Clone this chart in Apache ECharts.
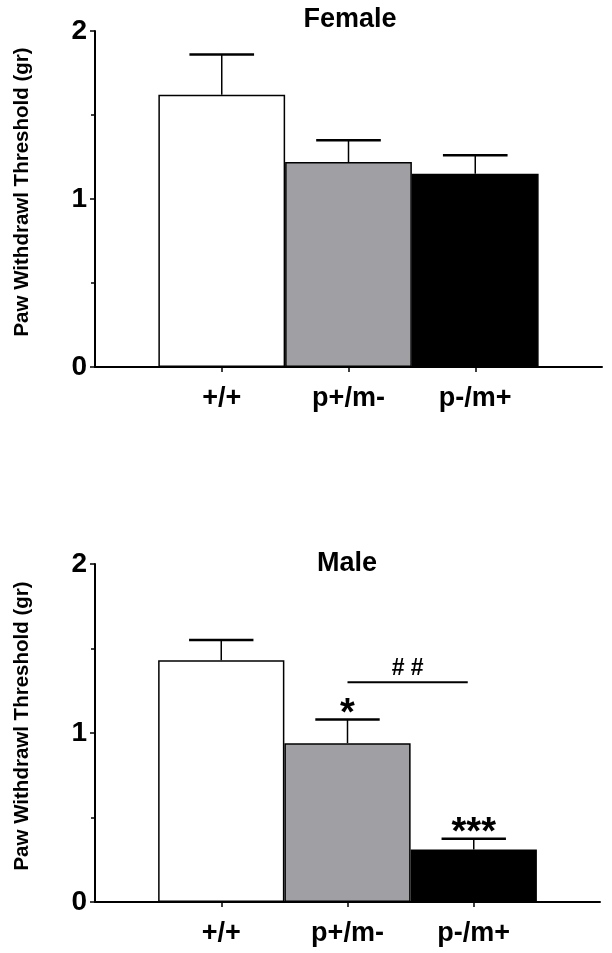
<!DOCTYPE html>
<html>
<head>
<meta charset="utf-8">
<script src="https://cdn.jsdelivr.net/npm/echarts@6/dist/echarts.min.js"></script>
<style>html,body{margin:0;padding:0;background:#fff;}#c{width:612px;height:953px;}</style>
</head>
<body>
<div id="c"></div>
<script>
// ---- data ----
var categories = ['+/+', 'p+/m-', 'p-/m+'];
var femaleMean = [1.62, 1.22, 1.15];
var femaleSem = [0.24, 0.13, 0.11];
var maleMean = [1.43, 0.94, 0.31];
var maleSem = [0.12, 0.14, 0.065];
var barColors = ['#ffffff', '#a0a0a4', '#000000'];
var yTicks = [0, 1, 2];
var maleStars = [['p+/m-', '*'], ['p-/m+', '***']];
var maleHashLine = ['p+/m-', 'p-/m+', 1.3, '# #'];
var panelTitles = ['Female', 'Male'];
var yTitle = 'Paw Withdrawl Threshold (gr)';

// ---- chart ----
var FONT = '"Liberation Sans", Arial, Helvetica, sans-serif';
var axisCats = [''].concat(categories).concat(['']);
var chart = echarts.init(document.getElementById('c'), null, {renderer: 'canvas'});

function xAxisFor(gi) {
  return {
    type: 'category', gridIndex: gi, data: axisCats, boundaryGap: false,
    axisLine: {lineStyle: {color: '#000', width: 2}},
    axisTick: {show: true, length: 5, lineStyle: {color: '#000', width: 1.5},
      interval: function (idx, val) { return val !== ''; }},
    axisLabel: {interval: 0, margin: 18, color: '#000', fontFamily: FONT, fontWeight: 'bold', fontSize: 27},
    splitLine: {show: false}
  };
}
function yAxisFor(gi) {
  return {
    type: 'value', gridIndex: gi, min: yTicks[0], max: yTicks[yTicks.length - 1], interval: 1,
    name: yTitle, nameLocation: 'middle', nameRotate: 90, nameGap: 62,
    nameTextStyle: {color: '#000', fontFamily: FONT, fontWeight: 'bold', fontSize: 20.5, padding: [0, 0, 0, 14]},
    axisLine: {show: true, lineStyle: {color: '#000', width: 2}},
    axisTick: {show: true, length: 5, lineStyle: {color: '#000', width: 1.5}},
    minorTick: {show: true, splitNumber: 2, length: 4, lineStyle: {color: '#000', width: 1.5}},
    axisLabel: {margin: 8, color: '#000', fontFamily: FONT, fontWeight: 'bold', fontSize: 28},
    splitLine: {show: false}
  };
}
function barSeries(gi, means) {
  return {
    type: 'bar', xAxisIndex: gi, yAxisIndex: gi, barWidth: '100%', silent: true,
    data: categories.map(function (c, i) {
      return {value: [c, means[i]], itemStyle: {color: barColors[i], borderColor: '#000', borderWidth: 1.5}};
    }),
    z: 2
  };
}
function errSeries(gi, means, sems) {
  return {
    type: 'custom', xAxisIndex: gi, yAxisIndex: gi, silent: true, z: 3,
    data: categories.map(function (c, i) { return [c, means[i], means[i] + sems[i]]; }),
    renderItem: function (params, api) {
      var lo = api.coord([api.value(0), api.value(1)]);
      var hi = api.coord([api.value(0), api.value(2)]);
      var half = api.size([1, 0])[0] * 0.255;
      return {type: 'group', children: [
        {type: 'line', shape: {x1: lo[0], y1: lo[1], x2: hi[0], y2: hi[1]}, style: {stroke: '#000', lineWidth: 1.5}},
        {type: 'line', shape: {x1: hi[0] - half, y1: hi[1], x2: hi[0] + half, y2: hi[1]}, style: {stroke: '#000', lineWidth: 2.5}}
      ]};
    }
  };
}

var starData = maleStars.map(function (s) {
  var i = categories.indexOf(s[0]);
  return [s[0], maleMean[i] + maleSem[i], s[1]];
});

option = {
  animation: false,
  backgroundColor: '#fff',
  title: [
    {text: panelTitles[0], left: 350, top: 6, textAlign: 'center', padding: 0,
     textStyle: {color: '#000', fontFamily: FONT, fontWeight: 'bold', fontSize: 27}},
    {text: panelTitles[1], left: 347, top: 550, textAlign: 'center', padding: 0,
     textStyle: {color: '#000', fontFamily: FONT, fontWeight: 'bold', fontSize: 27}}
  ],
  grid: [
    {left: 95, width: 507, top: 31, height: 336, containLabel: false},
    {left: 95, width: 505, top: 564, height: 338, containLabel: false}
  ],
  xAxis: [xAxisFor(0), xAxisFor(1)],
  yAxis: [yAxisFor(0), yAxisFor(1)],
  series: [
    barSeries(0, femaleMean),
    errSeries(0, femaleMean, femaleSem),
    barSeries(1, maleMean),
    errSeries(1, maleMean, maleSem),
    {
      type: 'custom', xAxisIndex: 1, yAxisIndex: 1, silent: true, z: 4,
      data: starData,
      renderItem: function (params, api) {
        var p = api.coord([api.value(0), api.value(1)]);
        return {type: 'text', x: p[0], y: p[1] - 5,
          style: {text: starData[params.dataIndex][2], align: 'center', verticalAlign: 'middle',
            fill: '#000', font: 'bold 38px ' + FONT}};
      }
    },
    {
      type: 'custom', xAxisIndex: 1, yAxisIndex: 1, silent: true, z: 4,
      data: [[maleHashLine[0], maleHashLine[1], maleHashLine[2]]],
      renderItem: function (params, api) {
        var a = api.coord([maleHashLine[0], maleHashLine[2]]);
        var b = api.coord([maleHashLine[1], maleHashLine[2]]);
        b[0] -= 6;
        return {type: 'group', children: [
          {type: 'line', shape: {x1: a[0], y1: a[1], x2: b[0], y2: b[1]}, style: {stroke: '#000', lineWidth: 2}},
          {type: 'text', x: (a[0] + b[0]) / 2, y: a[1] - 14,
           style: {text: maleHashLine[3], align: 'center', verticalAlign: 'middle', fill: '#000', font: 'bold 23px ' + FONT}}
        ]};
      }
    }
  ]
};
chart.setOption(option);
</script>
</body>
</html>
